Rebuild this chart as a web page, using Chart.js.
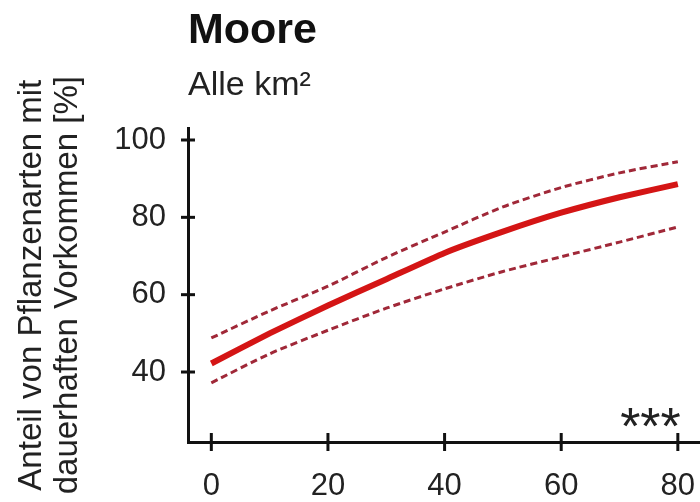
<!DOCTYPE html>
<html>
<head>
<meta charset="utf-8">
<script src="https://cdn.jsdelivr.net/npm/chart.js@4"></script>
<style>
html,body{margin:0;padding:0;background:#fff;}
#wrap{width:700px;height:502px;}
</style>
</head>
<body>
<div id="wrap"><canvas id="c" width="700" height="502"></canvas></div>
<script>
const xValues = [0, 10, 20, 30, 40, 50, 60, 70, 80];
const meanValues = [42.2, 50.0, 57.2, 64.0, 70.8, 76.3, 81.2, 85.2, 88.6];
const upperValues = [48.8, 55.8, 62.2, 69.6, 76.2, 82.7, 87.7, 91.5, 94.4];
const lowerValues = [37.2, 44.7, 50.8, 56.5, 61.5, 66.0, 69.8, 73.6, 77.5];
const xTicks = [0, 20, 40, 60, 80];
const yTicks = [40, 60, 80, 100];
const titleText = 'Moore';
const subtitleText = 'Alle km²';
const yTitle = ['Anteil von Pflanzenarten mit', 'dauerhaften Vorkommen [%]'];
const signifText = '***';

const FONT = 'Liberation Sans, Arial, Helvetica, sans-serif';
const toPts = (ys) => xValues.map((x, i) => ({x: x, y: ys[i]}));

const crossTicks = {
  id: 'crossTicks',
  afterDraw(chart) {
    const ctx = chart.ctx;
    const xs = chart.scales.x, ys = chart.scales.y;
    ctx.save();
    ctx.strokeStyle = '#111';
    ctx.lineWidth = 3;
    ys.ticks.forEach(t => {
      const py = ys.getPixelForValue(t.value);
      ctx.beginPath(); ctx.moveTo(xs.left - 7, py); ctx.lineTo(xs.left + 7, py); ctx.stroke();
    });
    xs.ticks.forEach(t => {
      const px = xs.getPixelForValue(t.value);
      ctx.beginPath(); ctx.moveTo(px, ys.bottom - 9); ctx.lineTo(px, ys.bottom + 9); ctx.stroke();
    });
    // significance stars
    ctx.fillStyle = '#222';
    ctx.font = '52px ' + FONT;
    ctx.textAlign = 'right';
    ctx.textBaseline = 'alphabetic';
    ctx.fillText(signifText, xs.getPixelForValue(80) + 3, ys.bottom + 2);
    ctx.restore();
  }
};

new Chart(document.getElementById('c'), {
  type: 'line',
  data: {
    datasets: [
      {data: toPts(upperValues), borderColor: '#a02838', borderWidth: 3, borderDash: [7, 4], pointRadius: 0, tension: 0.25, fill: false},
      {data: toPts(lowerValues), borderColor: '#a02838', borderWidth: 3, borderDash: [7, 4], pointRadius: 0, tension: 0.25, fill: false},
      {data: toPts(meanValues), borderColor: '#d41515', borderWidth: 6, pointRadius: 0, tension: 0.15, fill: false}
    ]
  },
  options: {
    responsive: false,
    animation: false,
    devicePixelRatio: 1,
    layout: {padding: {left: 0, right: 0, top: 0, bottom: 0}},
    plugins: {
      legend: {display: false},
      tooltip: {enabled: false},
      title: {
        display: true, text: titleText, align: 'start', fullSize: false, color: '#111',
        font: {family: FONT, size: 43, weight: 'bold', lineHeight: 1.2},
        padding: {top: 5, bottom: 0}
      },
      subtitle: {
        display: true, text: subtitleText, align: 'start', fullSize: false, color: '#222',
        font: {family: FONT, size: 34, lineHeight: 1.2},
        padding: {top: 8.4, bottom: 22.6}
      }
    },
    scales: {
      x: {
        type: 'linear', min: -4, max: 83.8,
        afterBuildTicks: (s) => { s.ticks = xTicks.map(v => ({value: v})); },
        afterFit: (s) => { s.height = 60; s.paddingLeft = 0; s.paddingRight = 0; },
        grid: {display: false, drawTicks: false},
        border: {display: true, color: '#111', width: 3},
        ticks: {color: '#222', padding: 26, font: {family: FONT, size: 31}, maxRotation: 0}
      },
      y: {
        type: 'linear', min: 21.9, max: 103,
        afterBuildTicks: (s) => { s.ticks = yTicks.map(v => ({value: v})); },
        afterFit: (s) => { s.width = 188; },
        grid: {display: false, drawTicks: false},
        border: {display: true, color: '#111', width: 3},
        ticks: {color: '#222', padding: 22, font: {family: FONT, size: 31}},
        title: {
          display: true, text: yTitle, color: '#222',
          font: {family: FONT, size: 33, lineHeight: 1.09},
          padding: {top: 14, bottom: 0}
        }
      }
    }
  },
  plugins: [crossTicks]
});
</script>
</body>
</html>
